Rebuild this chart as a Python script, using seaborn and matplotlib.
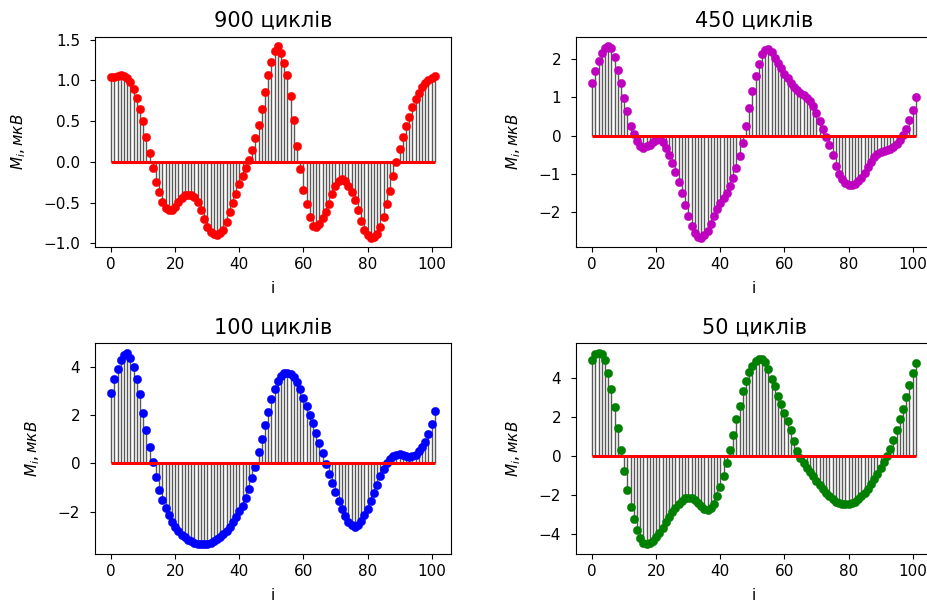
import numpy as np
import matplotlib
matplotlib.use("Agg")
import matplotlib.pyplot as plt
import seaborn as sns

# Sample index shared by all four measurement series
index = np.arange(102)

# Signal values, microvolts, for each cycle count
m_900 = [
    1.045, 1.045, 1.06, 1.07, 1.06, 1.03, 0.98, 0.90, 0.79, 0.65,
    0.50, 0.31, 0.11, -0.07, -0.25, -0.37, -0.49, -0.56, -0.59, -0.59,
    -0.55, -0.49, -0.44, -0.41, -0.40, -0.40, -0.43, -0.49, -0.59, -0.70,
    -0.80, -0.86, -0.89, -0.90, -0.87, -0.83, -0.74, -0.61, -0.50, -0.39,
    -0.27, -0.17, -0.07, 0.03, 0.15, 0.29, 0.45, 0.65, 0.86, 1.07,
    1.23, 1.36, 1.42, 1.34, 1.22, 1.07, 0.81, 0.52, 0.20, -0.09,
    -0.35, -0.52, -0.68, -0.78, -0.80, -0.76, -0.69, -0.61, -0.51, -0.39,
    -0.29, -0.23, -0.21, -0.23, -0.29, -0.37, -0.47, -0.59, -0.73, -0.84,
    -0.90, -0.93, -0.92, -0.88, -0.80, -0.68, -0.52, -0.36, -0.17, 0.00,
    0.16, 0.31, 0.44, 0.55, 0.67, 0.77, 0.85, 0.92, 0.97, 1.00,
    1.03, 1.05,
]

m_450 = [
    1.38, 1.69, 1.95, 2.17, 2.30, 2.34, 2.30, 2.06, 1.73, 1.38,
    0.99, 0.64, 0.26, 0.03, -0.15, -0.28, -0.32, -0.28, -0.24, -0.17,
    -0.13, -0.10, -0.17, -0.32, -0.50, -0.72, -0.96, -1.22, -1.50, -1.81,
    -2.12, -2.38, -2.56, -2.66, -2.68, -2.62, -2.50, -2.32, -2.12, -1.92,
    -1.77, -1.64, -1.50, -1.33, -1.11, -0.85, -0.54, -0.19, 0.24, 0.71,
    1.16, 1.56, 1.88, 2.13, 2.24, 2.27, 2.19, 2.04, 1.91, 1.76,
    1.62, 1.50, 1.38, 1.28, 1.19, 1.12, 1.06, 0.99, 0.90, 0.77,
    0.59, 0.38, 0.17, -0.03, -0.26, -0.52, -0.79, -1.01, -1.15, -1.24,
    -1.29, -1.31, -1.27, -1.20, -1.11, -0.98, -0.83, -0.69, -0.57, -0.48,
    -0.43, -0.40, -0.38, -0.36, -0.31, -0.23, -0.12, 0.02, 0.17, 0.40,
    0.66, 1.01,
]

m_100 = [
    2.93, 3.51, 3.93, 4.28, 4.51, 4.58, 4.37, 3.99, 3.51, 2.86,
    2.08, 1.38, 0.69, 0.07, -0.58, -1.09, -1.50, -1.86, -2.16, -2.41,
    -2.62, -2.80, -2.95, -3.07, -3.16, -3.23, -3.29, -3.33, -3.35, -3.36,
    -3.33, -3.29, -3.23, -3.15, -3.05, -2.93, -2.80, -2.64, -2.43, -2.23,
    -1.98, -1.75, -1.43, -1.06, -0.62, -0.14, 0.48, 1.03, 1.58, 2.13,
    2.65, 3.07, 3.41, 3.62, 3.73, 3.76, 3.71, 3.59, 3.38, 3.07,
    2.72, 2.38, 2.01, 1.66, 1.25, 0.84, 0.43, -0.03, -0.44, -0.83,
    -1.20, -1.57, -1.91, -2.20, -2.41, -2.57, -2.64, -2.54, -2.37, -2.16,
    -1.88, -1.57, -1.22, -0.88, -0.54, -0.23, 0.00, 0.18, 0.29, 0.36,
    0.39, 0.36, 0.29, 0.28, 0.29, 0.36, 0.50, 0.69, 0.89, 1.21,
    1.62, 2.17,
]

m_50 = [
    4.90, 5.19, 5.27, 5.19, 4.93, 4.22, 3.41, 2.48, 1.42, 0.29,
    -0.81, -1.77, -2.64, -3.26, -3.82, -4.22, -4.49, -4.56, -4.49, -4.36,
    -4.19, -3.97, -3.72, -3.43, -3.14, -2.89, -2.67, -2.47, -2.33, -2.20,
    -2.16, -2.20, -2.30, -2.45, -2.60, -2.74, -2.80, -2.70, -2.48, -2.10,
    -1.62, -1.05, -0.40, 0.29, 1.05, 1.90, 2.55, 3.30, 3.85, 4.30,
    4.60, 4.85, 4.98, 4.97, 4.80, 4.43, 3.95, 3.55, 3.07, 2.65,
    2.20, 1.76, 1.30, 0.74, 0.24, -0.10, -0.38, -0.62, -0.85, -1.07,
    -1.30, -1.52, -1.73, -1.93, -2.10, -2.25, -2.36, -2.43, -2.47, -2.48,
    -2.48, -2.44, -2.36, -2.25, -2.10, -1.93, -1.72, -1.48, -1.22, -0.95,
    -0.65, -0.35, -0.02, 0.33, 0.79, 1.30, 1.86, 2.40, 2.99, 3.61,
    4.22, 4.73,
]

titles = ["900 циклів", "450 циклів", "100 циклів", "50 циклів"]
series = [m_900, m_450, m_100, m_50]
colors = ["red", "m", "blue", "green"]

plt.rcParams["font.family"] = ["DejaVu Sans"]
plt.rcParams["mathtext.fontset"] = "dejavusans"

W, H = 928, 601
fig = plt.figure(figsize=(W / 100, H / 100), dpi=100)

# axes boxes in pixels: (left, top, width, height)
boxes = [(95, 36.7, 356, 210.6), (576, 36.7, 356, 210.6),
         (95, 343.3, 356, 210.7), (576, 343.3, 356, 210.7)]

for (l, t, w, h), title, vals, col in zip(boxes, titles, series, colors):
    ax = fig.add_axes([l / W, (H - t - h) / H, w / W, h / H])
    y = np.asarray(vals)
    ax.vlines(index, 0, y, color="0.35", linewidth=1.0, zorder=1.5)
    sns.scatterplot(x=index, y=y, ax=ax, color=col, s=36,
                    edgecolor=col, linewidth=0.3, zorder=3, legend=False)
    ax.hlines(0, index[0], index[-1], color="red", linewidth=2.2, zorder=4)
    ax.set_title(title, fontsize=15, pad=7)
    ax.set_xlabel("i", fontsize=11, labelpad=6.5)
    ax.set_ylabel(r"$M_i, мкВ$", fontsize=11, labelpad=11)
    ax.tick_params(axis="x", labelsize=11)
    ax.tick_params(axis="y", labelsize=11, pad=7.2)
    ax.set_xticks([0, 20, 40, 60, 80, 100])

fig.savefig("out.png", dpi=100)
